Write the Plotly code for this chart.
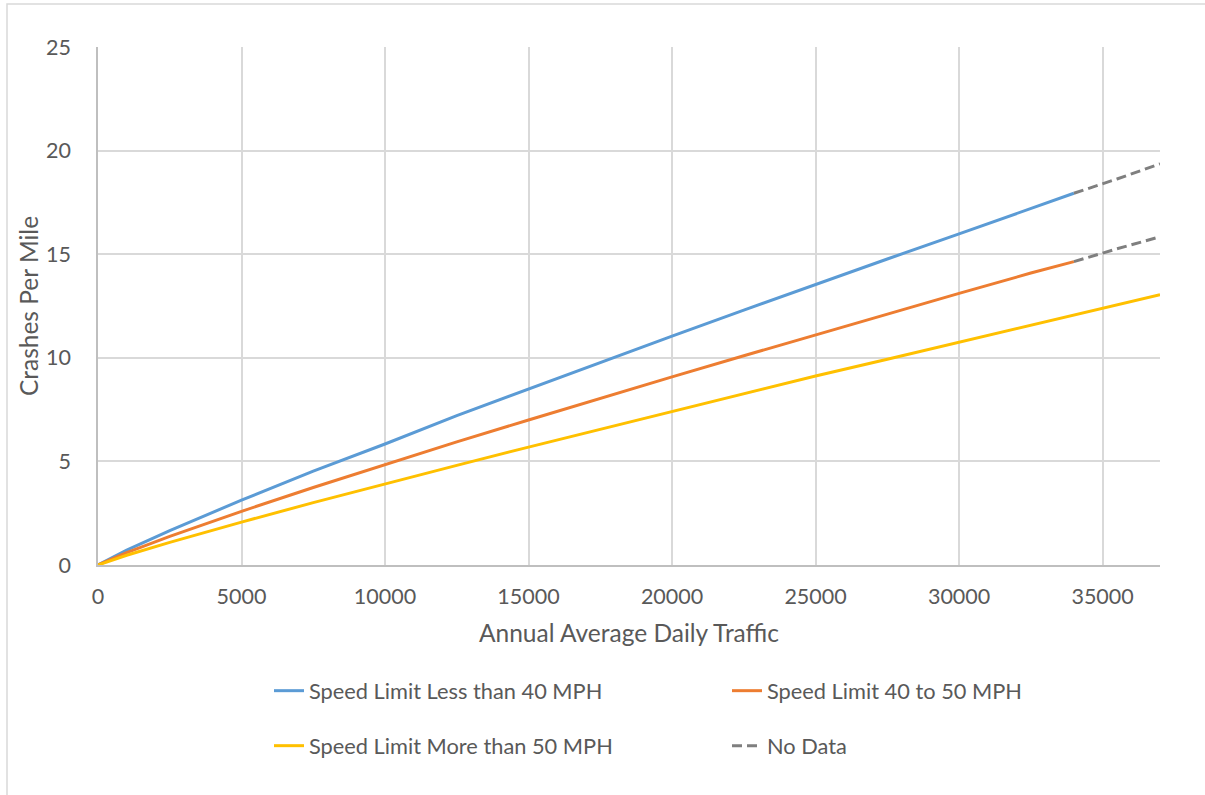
import plotly.graph_objects as go

# AADT values (x) and crashes per mile (y)
aadt = [0, 1000, 2500, 5000, 7500, 10000, 12500, 15000, 17500, 20000,
        22500, 25000, 27500, 30000, 32500, 34000]
less40 = [0, 0.72, 1.66, 3.13, 4.53, 5.84, 7.21, 8.50, 9.79, 11.05,
          12.30, 13.55, 14.77, 15.98, 17.19, 17.94]
mid4050 = [0, 0.60, 1.38, 2.59, 3.74, 4.85, 5.94, 7.00, 8.05, 9.08,
           10.10, 11.11, 12.12, 13.11, 14.09, 14.64]

aadt_more = [0, 1000, 2500, 5000, 7500, 10000, 12500, 15000, 17500, 20000,
             22500, 25000, 27500, 30000, 32500, 35000, 37000]
more50 = [0, 0.47, 1.09, 2.07, 3.01, 3.92, 4.81, 5.69, 6.55, 7.41,
          8.26, 9.12, 9.93, 10.76, 11.58, 12.40, 13.05]

# "No Data" extrapolations
nodata_x = [34000, 35500, 37000]
nodata_less40 = [17.94, 18.63, 19.36]
nodata_mid = [14.64, 15.26, 15.84]

x_ticks = [0, 5000, 10000, 15000, 20000, 25000, 30000, 35000]
y_ticks = [0, 5, 10, 15, 20, 25]

FONT = "Lato"
TXT = "#595959"
DASH = "10px,5px"

fig = go.Figure()
fig.add_trace(go.Scatter(x=aadt, y=less40, mode="lines", name="Speed Limit Less than 40 MPH",
                         line=dict(color="#5b9bd5", width=3), legend="legend"))
fig.add_trace(go.Scatter(x=aadt, y=mid4050, mode="lines", name="Speed Limit 40 to 50 MPH",
                         line=dict(color="#ed7d31", width=3), legend="legend2"))
fig.add_trace(go.Scatter(x=aadt_more, y=more50, mode="lines", name="Speed Limit More than 50 MPH",
                         line=dict(color="#ffc000", width=3), legend="legend3"))
fig.add_trace(go.Scatter(x=nodata_x, y=nodata_less40, mode="lines", name="No Data",
                         line=dict(color="#7f7f7f", width=3, dash=DASH), legend="legend4"))
fig.add_trace(go.Scatter(x=nodata_x, y=nodata_mid, mode="lines", name="No Data",
                         line=dict(color="#7f7f7f", width=3, dash=DASH), showlegend=False))

PL, PR, PT, PB = 98, 1160, 47, 565
PW, PH = PR - PL, PB - PT


def px_x(v):
    return (v - PL) / PW


def px_y(v):
    return (PB - v) / PH


def leg(xpx, ypx):
    return dict(x=px_x(xpx), y=px_y(ypx), xanchor="left", yanchor="middle",
                orientation="v", font=dict(family=FONT, size=21.8, color=TXT),
                bgcolor="rgba(0,0,0,0)", borderwidth=0)


fig.update_layout(
    width=1205, height=795,
    margin=dict(l=PL, r=1205 - PR, t=PT, b=795 - PB, autoexpand=False),
    paper_bgcolor="white", plot_bgcolor="white",
    font=dict(family=FONT, color=TXT, size=20),
    showlegend=True,
    legend=leg(269, 691),
    legend2=leg(727, 691),
    legend3=leg(269, 746),
    legend4=leg(727, 746),
    xaxis=dict(range=[0, 37000], tickvals=x_ticks, ticktext=[str(v) for v in x_ticks],
               showgrid=True, gridcolor="#d9d9d9", gridwidth=1.5,
               showline=True, linecolor="#bfbfbf", linewidth=1.5,
               zeroline=False, ticks="", ticklabelstandoff=11, automargin=False,
               tickfont=dict(family=FONT, size=21.5, color=TXT),
               title=dict(text="Annual Average Daily Traffic", standoff=17,
                          font=dict(family=FONT, size=24.5, color=TXT))),
    yaxis=dict(range=[0, 25], tickvals=y_ticks,
               showgrid=True, gridcolor="#d9d9d9", gridwidth=1.5,
               showline=True, linecolor="#bfbfbf", linewidth=1.5,
               zeroline=False, ticks="", ticklabelstandoff=21, automargin=False,
               tickfont=dict(family=FONT, size=21.5, color=TXT),
               title=dict(text="Crashes Per Mile", standoff=0,
                          font=dict(family=FONT, size=24.5, color=TXT))),
    shapes=[dict(type="rect", xref="paper", yref="paper",
                 x0=px_x(7), x1=px_x(1215), y0=px_y(805), y1=px_y(4),
                 line=dict(color="#d9d9d9", width=1.5), layer="below")],
)

fig.write_html("out.html", config={"displayModeBar": False},
               post_script="document.body.style.margin='0px';")
